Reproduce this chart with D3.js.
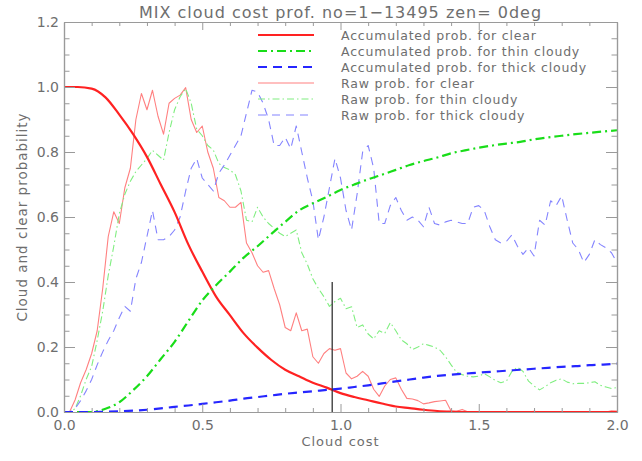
<!DOCTYPE html>
<html>
<head>
<meta charset="utf-8">
<script src="https://cdn.jsdelivr.net/npm/d3@7/dist/d3.min.js"></script>
<style>
  html, body { margin: 0; padding: 0; background: #fff; }
  svg { display: block; }
  text { font-family: "DejaVu Sans", "Liberation Sans", sans-serif; fill: #6e6e6e; }
</style>
</head>
<body>
<svg id="chart" width="642" height="461"></svg>
<script>
// Cloud-cost probability profiles (MIX, zenith 0 deg)

// Accumulated probabilities, sampled every 0.05 in cloud cost
const accStep = 0.05;
const accClear = [1.0, 1.0, 0.995, 0.968, 0.915, 0.855, 0.785, 0.70, 0.615, 0.515,
  0.432, 0.355, 0.298, 0.242, 0.198, 0.16, 0.13, 0.11, 0.09, 0.075,
  0.058, 0.046, 0.036, 0.026, 0.017, 0.012, 0.007, 0.003, 0.001, 0.0,
  0, 0, 0, 0, 0, 0, 0, 0, 0, 0, 0];
const accThin = [0, 0, 0, 0.01, 0.03, 0.067, 0.11, 0.163, 0.216, 0.28,
  0.343, 0.39, 0.432, 0.475, 0.51, 0.548, 0.585, 0.62, 0.642, 0.662,
  0.683, 0.70, 0.716, 0.73, 0.745, 0.76, 0.772, 0.783, 0.796, 0.805,
  0.813, 0.82, 0.826, 0.831, 0.839, 0.845, 0.85, 0.855, 0.859, 0.863, 0.867];
const accThick = [0, 0, 0, 0.001, 0.002, 0.004, 0.007, 0.011, 0.016, 0.02,
  0.025, 0.03, 0.035, 0.041, 0.046, 0.051, 0.056, 0.06, 0.064, 0.068,
  0.072, 0.077, 0.082, 0.088, 0.094, 0.1, 0.106, 0.111, 0.115, 0.118,
  0.121, 0.124, 0.127, 0.13, 0.133, 0.136, 0.139, 0.141, 0.144, 0.146, 0.149];

// Raw (normalised) probabilities, binned every 0.02 in cloud cost
const rawStep = 0.02;
const rawClear = [0, 0, 0.037, 0.09, 0.13, 0.18, 0.25, 0.38, 0.54, 0.616,
  0.58, 0.69, 0.75, 0.90, 0.98, 0.93, 0.99, 0.91, 0.855, 0.95,
  0.965, 0.975, 0.998, 0.90, 0.86, 0.88, 0.80, 0.75, 0.66, 0.65,
  0.63, 0.63, 0.645, 0.52, 0.49, 0.45, 0.43, 0.435, 0.38, 0.33,
  0.26, 0.25, 0.305, 0.25, 0.255, 0.17, 0.15, 0.18, 0.195, 0.19,
  0.195, 0.12, 0.102, 0.11, 0.125, 0.11, 0.07, 0.048, 0.08, 0.10,
  0.105, 0.07, 0.042, 0.04, 0.035, 0.025, 0.028, 0.032, 0.034, 0.036,
  0.003, 0.002, 0.008, 0.001, 0, 0, 0, 0, 0, 0,
  0, 0, 0, 0, 0, 0.002, 0, 0, 0, 0,
  0, 0, 0, 0, 0, 0, 0, 0, 0, 0.004, 0.003];
const rawThin = [0, 0, 0.01, 0.05, 0.10, 0.14, 0.22, 0.31, 0.42, 0.51,
  0.61, 0.67, 0.71, 0.74, 0.76, 0.78, 0.805, 0.79, 0.775, 0.86,
  0.93, 0.97, 0.995, 0.95, 0.87, 0.85, 0.82, 0.806, 0.765, 0.752,
  0.745, 0.73, 0.68, 0.59, 0.585, 0.63, 0.60, 0.58, 0.565, 0.55,
  0.54, 0.55, 0.56, 0.49, 0.455, 0.41, 0.38, 0.355, 0.325, 0.34,
  0.35, 0.318, 0.324, 0.26, 0.268, 0.24, 0.225, 0.25, 0.242, 0.275,
  0.25, 0.222, 0.21, 0.192, 0.20, 0.21, 0.205, 0.20, 0.19, 0.17,
  0.145, 0.122, 0.115, 0.11, 0.108, 0.11, 0.118, 0.108, 0.097, 0.09,
  0.095, 0.125, 0.138, 0.125, 0.095, 0.08, 0.068, 0.078, 0.09, 0.098,
  0.102, 0.092, 0.087, 0.088, 0.088, 0.09, 0.093, 0.082, 0.077, 0.072, 0.075];
const rawThick = [0, 0, 0.01, 0.035, 0.065, 0.10, 0.145, 0.185, 0.22, 0.25,
  0.29, 0.325, 0.31, 0.41, 0.46, 0.54, 0.62, 0.53, 0.53, 0.54,
  0.56, 0.60, 0.68, 0.75, 0.78, 0.72, 0.70, 0.68, 0.735, 0.76,
  0.79, 0.82, 0.85, 0.92, 0.99, 0.985, 0.95, 0.90, 0.82, 0.82,
  0.845, 0.81, 0.88, 0.80, 0.72, 0.65, 0.53, 0.60, 0.69, 0.78,
  0.72, 0.62, 0.56, 0.67, 0.80, 0.82, 0.75, 0.58, 0.58, 0.635,
  0.66, 0.62, 0.59, 0.60, 0.59, 0.57, 0.63, 0.58, 0.575, 0.585,
  0.59, 0.585, 0.58, 0.58, 0.63, 0.635, 0.62, 0.57, 0.53, 0.52,
  0.525, 0.545, 0.51, 0.485, 0.505, 0.48, 0.59, 0.575, 0.65, 0.635,
  0.665, 0.59, 0.52, 0.50, 0.46, 0.485, 0.53, 0.515, 0.505, 0.49, 0.46];

// Cut-off marker
const cutoffCost = 0.97;
const cutoffTop = 0.4;

const xMajorTicks = [0, 0.5, 1.0, 1.5, 2.0];
const yMajorTicks = [0, 0.2, 0.4, 0.6, 0.8, 1.0, 1.2];

const series = [
  { name: "Accumulated prob. for clear",       values: accClear, step: accStep, color: "#ff2222", width: 2.2, dash: null,        curve: d3.curveMonotoneX },
  { name: "Accumulated prob. for thin cloudy", values: accThin,  step: accStep, color: "#19dd19", width: 2.2, dash: "9,4,2,4",   curve: d3.curveMonotoneX },
  { name: "Accumulated prob. for thick cloudy",values: accThick, step: accStep, color: "#2626ff", width: 2.2, dash: "9,6",       curve: d3.curveMonotoneX },
  { name: "Raw prob. for clear",               values: rawClear, step: rawStep, color: "#ff8080", width: 1.1, dash: null,        curve: d3.curveLinear },
  { name: "Raw prob. for thin cloudy",         values: rawThin,  step: rawStep, color: "#80ee80", width: 1.1, dash: "7,3,1.5,3", curve: d3.curveLinear },
  { name: "Raw prob. for thick cloudy",        values: rawThick, step: rawStep, color: "#8484ff", width: 1.1, dash: "8,6",       curve: d3.curveLinear }
];

const svg = d3.select("#chart");
const margin = { left: 64, right: 25, top: 22, bottom: 49 };
const W = 642, H = 461;

const x = d3.scaleLinear().domain([0, 2]).range([margin.left, W - margin.right]);
const y = d3.scaleLinear().domain([0, 1.2]).range([H - margin.bottom, margin.top]);

const plotBottom = y(0), plotTop = y(1.2), plotLeft = x(0), plotRight = x(2);

// Curves: raw first, accumulated on top
const drawOrder = [3, 4, 5, 0, 1, 2];
const plot = svg.append("g");
drawOrder.forEach(i => {
  const s = series[i];
  const line = d3.line()
    .x((d, k) => x(k * s.step))
    .y(d => y(d))
    .curve(s.curve);
  plot.append("path")
    .datum(s.values)
    .attr("fill", "none")
    .attr("stroke", s.color)
    .attr("stroke-width", s.width)
    .attr("stroke-dasharray", s.dash)
    .attr("stroke-linejoin", "round")
    .attr("d", line);
});

// Cut-off marker
plot.append("line")
  .attr("x1", x(cutoffCost)).attr("x2", x(cutoffCost))
  .attr("y1", y(0)).attr("y2", y(cutoffTop))
  .attr("stroke", "#333").attr("stroke-width", 1.3);

// Axes with inward ticks on all four sides
const axisColor = "#9a9a9a";
const xMinor = d3.range(0, 21).map(i => i / 10).filter(v => !xMajorTicks.some(m => Math.abs(m - v) < 1e-9));
const yMinor = d3.range(0, 25).map(i => i / 20).filter(v => !yMajorTicks.some(m => Math.abs(m - v) < 1e-9));

function styleAxis(g) {
  g.selectAll("path.domain").attr("stroke", axisColor).attr("stroke-width", 1.2);
  g.selectAll(".tick line").attr("stroke", axisColor).attr("stroke-width", 1);
  g.selectAll(".tick text").attr("fill", "#6e6e6e").style("font-size", "14px")
    .style("font-family", "'DejaVu Sans', sans-serif");
}

svg.append("g").attr("transform", `translate(0,${plotBottom})`)
  .call(d3.axisBottom(x).tickValues(xMajorTicks).tickSize(-8).tickSizeOuter(0).tickPadding(8).tickFormat(d3.format(".1f")))
  .call(styleAxis);
svg.append("g").attr("transform", `translate(0,${plotBottom})`)
  .call(d3.axisBottom(x).tickValues(xMinor).tickSize(-4).tickSizeOuter(0).tickFormat(""))
  .call(styleAxis);
svg.append("g").attr("transform", `translate(0,${plotTop})`)
  .call(d3.axisTop(x).tickValues(xMajorTicks).tickSize(-8).tickSizeOuter(0).tickFormat(""))
  .call(styleAxis);
svg.append("g").attr("transform", `translate(0,${plotTop})`)
  .call(d3.axisTop(x).tickValues(xMinor).tickSize(-4).tickSizeOuter(0).tickFormat(""))
  .call(styleAxis);

svg.append("g").attr("transform", `translate(${plotLeft},0)`)
  .call(d3.axisLeft(y).tickValues(yMajorTicks).tickSize(-11).tickSizeOuter(0).tickPadding(5).tickFormat(d3.format(".1f")))
  .call(styleAxis);
svg.append("g").attr("transform", `translate(${plotLeft},0)`)
  .call(d3.axisLeft(y).tickValues(yMinor).tickSize(-5.5).tickSizeOuter(0).tickFormat(""))
  .call(styleAxis);
svg.append("g").attr("transform", `translate(${plotRight},0)`)
  .call(d3.axisRight(y).tickValues(yMajorTicks).tickSize(-11).tickSizeOuter(0).tickFormat(""))
  .call(styleAxis);
svg.append("g").attr("transform", `translate(${plotRight},0)`)
  .call(d3.axisRight(y).tickValues(yMinor).tickSize(-5.5).tickSizeOuter(0).tickFormat(""))
  .call(styleAxis);

// Titles
svg.append("text")
  .attr("x", (plotLeft + plotRight) / 2).attr("y", 12)
  .attr("text-anchor", "middle").attr("dominant-baseline", "central")
  .style("font-size", "16px").style("letter-spacing", "1px").attr("fill", "#606060")
  .text("MIX cloud cost prof. no=1\u221213495 zen= 0deg");

svg.append("text")
  .attr("x", (plotLeft + plotRight) / 2).attr("y", 441)
  .attr("text-anchor", "middle").attr("dominant-baseline", "central")
  .style("font-size", "13px").style("letter-spacing", "1px")
  .text("Cloud cost");

svg.append("text")
  .attr("transform", `translate(22,${(plotTop + plotBottom) / 2}) rotate(-90)`)
  .attr("text-anchor", "middle").attr("dominant-baseline", "central")
  .style("font-size", "13.5px").style("letter-spacing", "1px")
  .text("Cloud and clear probability");

// Legend
const legend = svg.append("g");
const legendRows = [35, 51, 67, 83, 99, 115];
series.forEach((s, i) => {
  const yy = legendRows[i];
  legend.append("line")
    .attr("x1", 258).attr("x2", 314).attr("y1", yy).attr("y2", yy)
    .attr("stroke", s.color).attr("stroke-width", s.width)
    .attr("stroke-dasharray", s.dash);
  legend.append("text")
    .attr("x", 341).attr("y", yy)
    .attr("dominant-baseline", "central")
    .style("font-size", "12.5px").style("letter-spacing", "0.8px")
    .text(s.name);
});
</script>
</body>
</html>
